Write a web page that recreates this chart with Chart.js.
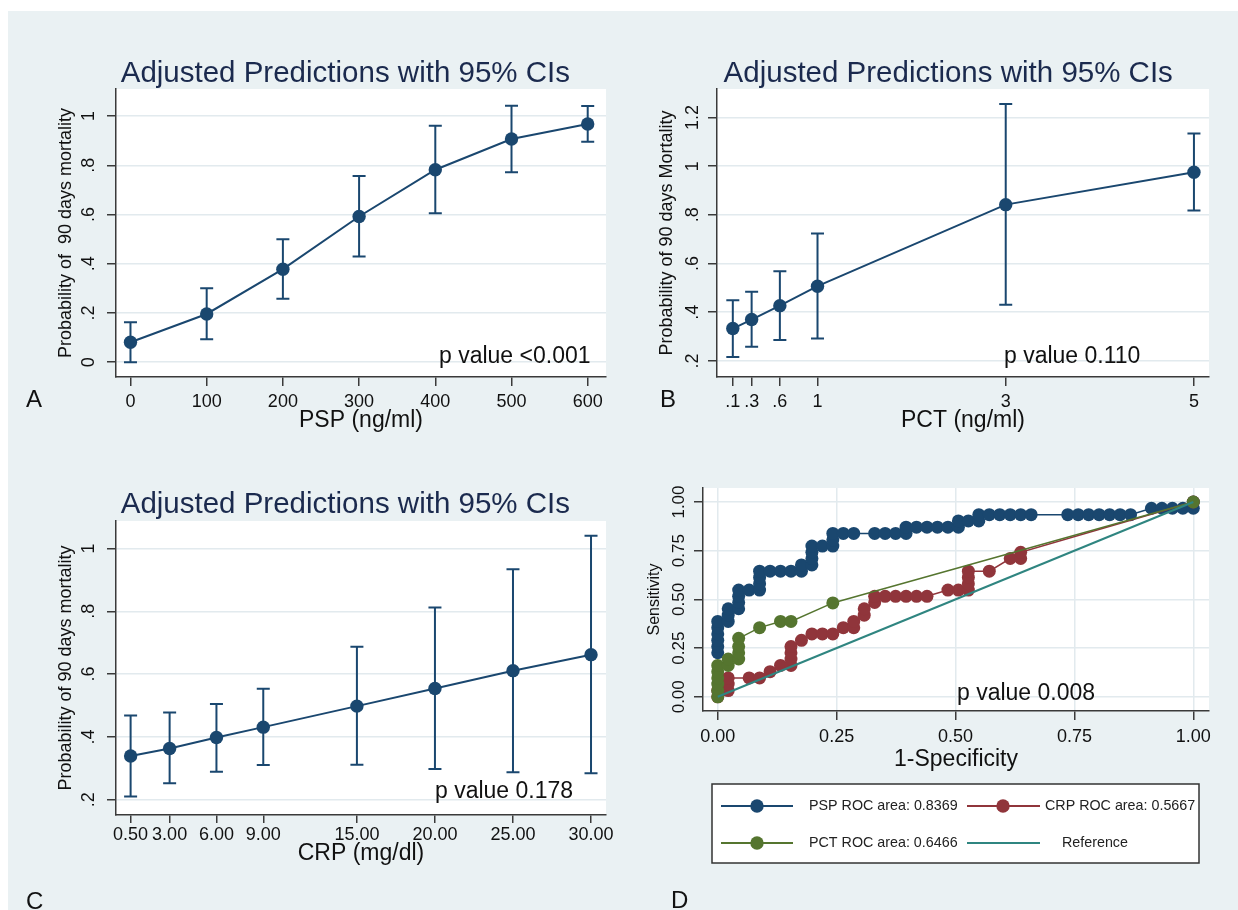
<!DOCTYPE html>
<html>
<head>
<meta charset="utf-8">
<script src="https://cdn.jsdelivr.net/npm/chart.js@4.4.1/dist/chart.umd.min.js"></script>
<style>
  body { margin: 0; width: 1238px; height: 910px; background: #fff; position: relative; overflow: hidden; }
  #bg { position: absolute; left: 8px; top: 11px; width: 1230px; height: 899px; background: #eaf1f3; }
  canvas { position: absolute; }
</style>
</head>
<body>
<div id="bg"></div>
<canvas id="chartA" width="610" height="430" style="left:8px;top:11px"></canvas>
<canvas id="chartB" width="620" height="430" style="left:618px;top:11px"></canvas>
<canvas id="chartC" width="610" height="460" style="left:8px;top:450px"></canvas>
<canvas id="chartD" width="620" height="460" style="left:618px;top:450px"></canvas>
<script>
/* ================= DATA ================= */
// A - PSP
const pspDose = [0, 100, 200, 300, 400, 500, 600];
const pspProb = [0.081, 0.196, 0.378, 0.592, 0.782, 0.907, 0.968];
const pspLow  = [0.0, 0.093, 0.258, 0.430, 0.605, 0.772, 0.896];
const pspHigh = [0.162, 0.301, 0.500, 0.757, 0.961, 1.042, 1.041];
const pspXLabels = ["0", "100", "200", "300", "400", "500", "600"];
const pspYTicks = [0, 0.2, 0.4, 0.6, 0.8, 1];
const pspYLabels = ["0", ".2", ".4", ".6", ".8", "1"];

// B - PCT
const pctDose = [0.1, 0.3, 0.6, 1, 3, 5];
const pctProb = [0.333, 0.370, 0.427, 0.507, 0.842, 0.975];
const pctLow  = [0.216, 0.258, 0.286, 0.292, 0.431, 0.818];
const pctHigh = [0.449, 0.484, 0.568, 0.723, 1.255, 1.134];
const pctXLabels = [".1", ".3", ".6", "1", "3", "5"];
const pctYTicks = [0.2, 0.4, 0.6, 0.8, 1, 1.2];
const pctYLabels = [".2", ".4", ".6", ".8", "1", "1.2"];

// C - CRP
const crpDose = [0.5, 3, 6, 9, 15, 20, 25, 30];
const crpProb = [0.339, 0.363, 0.398, 0.431, 0.498, 0.554, 0.611, 0.662];
const crpLow  = [0.210, 0.252, 0.289, 0.310, 0.311, 0.298, 0.287, 0.284];
const crpHigh = [0.468, 0.478, 0.505, 0.553, 0.687, 0.812, 0.934, 1.041];
const crpXLabels = ["0.50", "3.00", "6.00", "9.00", "15.00", "20.00", "25.00", "30.00"];
const crpYTicks = [0.2, 0.4, 0.6, 0.8, 1];
const crpYLabels = [".2", ".4", ".6", ".8", "1"];

// D - ROC curves (1-specificity, sensitivity)
const rocPspX = [0, 0, 0, 0, 0, 0, 0.022, 0.022, 0.022, 0.044, 0.044, 0.044, 0.044,
  0.066, 0.088, 0.088, 0.088, 0.088, 0.11, 0.132, 0.154, 0.176, 0.176,
  0.198, 0.198, 0.198, 0.198, 0.22, 0.242, 0.242, 0.242, 0.264, 0.286,
  0.33, 0.352, 0.374, 0.396, 0.396, 0.418, 0.44, 0.462, 0.484, 0.506, 0.506,
  0.527, 0.549, 0.549, 0.571, 0.593, 0.615, 0.637, 0.659,
  0.736, 0.758, 0.78, 0.802, 0.824, 0.846, 0.868,
  0.912, 0.934, 0.956, 0.978, 1, 1];
const rocPspY = [0.226, 0.258, 0.29, 0.323, 0.355, 0.387, 0.387, 0.419, 0.452, 0.452, 0.484, 0.516, 0.548,
  0.548, 0.548, 0.581, 0.613, 0.645, 0.645, 0.645, 0.645, 0.645, 0.677,
  0.677, 0.71, 0.742, 0.774, 0.774, 0.774, 0.806, 0.839, 0.839, 0.839,
  0.839, 0.839, 0.839, 0.839, 0.871, 0.871, 0.871, 0.871, 0.871, 0.871, 0.903,
  0.903, 0.903, 0.935, 0.935, 0.935, 0.935, 0.935, 0.935,
  0.935, 0.935, 0.935, 0.935, 0.935, 0.935, 0.935,
  0.968, 0.968, 0.968, 0.968, 0.968, 1];
const rocCrpX = [0, 0, 0.022, 0.022, 0.022, 0.066, 0.088, 0.11, 0.132, 0.154, 0.154, 0.154, 0.154,
  0.176, 0.198, 0.22, 0.242, 0.264, 0.286, 0.286, 0.308, 0.308, 0.33, 0.33,
  0.352, 0.374, 0.396, 0.418, 0.44, 0.484, 0.506, 0.527, 0.527, 0.527, 0.527,
  0.571, 0.615, 0.637, 0.637, 1];
const rocCrpY = [0, 0.032, 0.032, 0.065, 0.097, 0.097, 0.097, 0.129, 0.161, 0.161, 0.194, 0.226, 0.258,
  0.29, 0.323, 0.323, 0.323, 0.355, 0.355, 0.387, 0.419, 0.452, 0.484, 0.516,
  0.516, 0.516, 0.516, 0.516, 0.516, 0.548, 0.548, 0.548, 0.581, 0.613, 0.645,
  0.645, 0.71, 0.71, 0.742, 1];
const rocPctX = [0, 0, 0, 0, 0, 0, 0.022, 0.022, 0.044, 0.044, 0.044, 0.044, 0.088, 0.132, 0.154, 0.242, 1];
const rocPctY = [0, 0.032, 0.065, 0.097, 0.129, 0.161, 0.161, 0.194, 0.194, 0.226, 0.258, 0.3, 0.355, 0.387, 0.387, 0.482, 1];
const refX = [0, 1];
const refY = [0, 1];
const rocXTicks = [0, 0.25, 0.5, 0.75, 1];
const rocTickLabels = ["0.00", "0.25", "0.50", "0.75", "1.00"];
const rocLegend = ["PSP ROC area: 0.8369", "CRP ROC area: 0.5667", "PCT ROC area: 0.6466", "Reference"];

/* ================= STYLE ================= */
const FONT = "'Liberation Sans', Arial, sans-serif";
const NAVY = "#1a476f";
const MAROON = "#90353b";
const GREEN = "#55752f";
const TEAL = "#2f8580";
const INK = "#111111";
const AXIS = "#3a3a3a";
const GRID = "#e2eaee";
Chart.defaults.font.family = FONT;
Chart.defaults.color = INK;

const plotBg = {
    id: "plotBg",
    beforeDraw(chart) {
        const a = chart.chartArea;
        chart.ctx.save();
        chart.ctx.fillStyle = "#ffffff";
        chart.ctx.fillRect(a.left, a.top, a.right - a.left, a.bottom - a.top);
        chart.ctx.restore();
    }
};

function errorBars(xs, low, high) {
    return {
        id: "errorBars",
        beforeDatasetsDraw(chart) {
            const { ctx, scales: { x, y } } = chart;
            ctx.save();
            ctx.strokeStyle = NAVY;
            ctx.lineWidth = 2;
            xs.forEach((v, i) => {
                const px = x.getPixelForValue(v);
                const lo = y.getPixelForValue(low[i]);
                const hi = y.getPixelForValue(high[i]);
                ctx.beginPath();
                ctx.moveTo(px, lo); ctx.lineTo(px, hi);
                ctx.moveTo(px - 6.5, lo); ctx.lineTo(px + 6.5, lo);
                ctx.moveTo(px - 6.5, hi); ctx.lineTo(px + 6.5, hi);
                ctx.stroke();
            });
            ctx.restore();
        }
    };
}

// rotated y tick labels, title, p value and panel letter
function panelText(t) {
    return {
        id: "panelText",
        afterDraw(chart) {
            const ctx = chart.ctx;
            const y = chart.scales.y;
            ctx.save();
            ctx.fillStyle = INK;
            ctx.font = t.yFont + "px " + FONT;
            ctx.textAlign = "center";
            ctx.textBaseline = "middle";
            t.yTicks.forEach((v, i) => {
                ctx.save();
                ctx.translate(t.yLabelX, y.getPixelForValue(v));
                ctx.rotate(-Math.PI / 2);
                ctx.fillText(t.yLabels[i], 0, 0);
                ctx.restore();
            });
            ctx.textAlign = "left";
            ctx.textBaseline = "alphabetic";
            if (t.title) {
                ctx.fillStyle = "#1b2a4e";
                ctx.font = "29.5px " + FONT;
                ctx.fillText(t.title, t.titleX, t.titleY);
            }
            ctx.fillStyle = INK;
            ctx.font = "23px " + FONT;
            ctx.fillText(t.pText, t.pX, t.pY);
            ctx.font = "24px " + FONT;
            ctx.fillText(t.letter, t.letterX, t.letterY);
            ctx.restore();
        }
    };
}

function axisX(c) {
    return {
        type: "linear", min: c.min, max: c.max,
        afterBuildTicks: s => { s.ticks = c.ticks.map(v => ({ value: v })); },
        afterFit: s => { s.height = c.height; s.paddingLeft = 0; s.paddingRight = 0; },
        ticks: { autoSkip: false, maxRotation: 0, minRotation: 0, padding: c.pad,
            font: { size: 18, lineHeight: 1 }, color: INK, callback: (v, i) => c.labels[i] },
        grid: { drawOnChartArea: !!c.gridOn, color: GRID, lineWidth: 1.5, drawTicks: true,
            tickLength: c.tl, tickColor: AXIS, tickWidth: 1.5 },
        border: { color: AXIS, width: 1.5 },
        title: { display: true, text: c.title, font: { size: 23, lineHeight: 1 }, padding: 0, color: INK }
    };
}

function axisY(c) {
    return {
        type: "linear", min: c.min, max: c.max,
        afterBuildTicks: s => { s.ticks = c.ticks.map(v => ({ value: v })); },
        afterFit: s => { s.width = c.width; s.paddingTop = 0; s.paddingBottom = 0; },
        ticks: { display: false },
        grid: { color: GRID, lineWidth: 1.5, drawTicks: true, tickLength: 9, tickColor: AXIS, tickWidth: 1.5 },
        border: { color: AXIS, width: 1.5 },
        title: { display: true, text: c.title, font: { size: c.titleSize, lineHeight: 1 }, padding: 0, color: INK }
    };
}

/* ================= PREDICTION PANELS ================= */
function predictionChart(id, p) {
    return new Chart(document.getElementById(id), {
        type: "scatter",
        data: {
            datasets: [{
                data: p.xs.map((v, i) => ({ x: v, y: p.ys[i] })),
                showLine: true,
                borderColor: NAVY,
                borderWidth: 2,
                pointRadius: 6.7,
                pointBackgroundColor: NAVY,
                pointBorderWidth: 0
            }]
        },
        options: {
            responsive: false,
            animation: false,
            layout: { padding: p.padding },
            scales: { x: axisX(p.x), y: axisY(p.y) },
            plugins: { legend: { display: false }, tooltip: { enabled: false } }
        },
        plugins: [plotBg, errorBars(p.xs, p.low, p.high), panelText(p.text)]
    });
}

const TITLE = "Adjusted Predictions with 95% CIs";

predictionChart("chartA", {
    xs: pspDose, ys: pspProb, low: pspLow, high: pspHigh,
    padding: { left: 49, right: 12, top: 78, bottom: 8.5 },
    x: { min: -19, max: 624, ticks: pspDose, labels: pspXLabels, height: 55.5, tl: 9, pad: 7, title: "PSP (ng/ml)" },
    y: { min: -0.06, max: 1.11, ticks: pspYTicks, width: 59, title: "Probability of  90 days mortality", titleSize: 18 },
    text: { yTicks: pspYTicks, yLabels: pspYLabels, yFont: 18, yLabelX: 81, title: TITLE, titleX: 112.7, titleY: 71,
        pText: "p value <0.001", pX: 431, pY: 351.7, letter: "A", letterX: 18, letterY: 396 }
});

predictionChart("chartB", {
    xs: pctDose, ys: pctProb, low: pctLow, high: pctHigh,
    padding: { left: 40, right: 29, top: 78, bottom: 8.5 },
    x: { min: -0.068, max: 5.16, ticks: pctDose, labels: pctXLabels, height: 55.5, tl: 9, pad: 7, title: "PCT (ng/ml)" },
    y: { min: 0.134, max: 1.317, ticks: pctYTicks, width: 59, title: "Probability of 90 days Mortality", titleSize: 18 },
    text: { yTicks: pctYTicks, yLabels: pctYLabels, yFont: 18, yLabelX: 75, title: TITLE, titleX: 105.6, titleY: 71,
        pText: "p value 0.110", pX: 386, pY: 351.7, letter: "B", letterX: 42, letterY: 396 }
});

predictionChart("chartC", {
    xs: crpDose, ys: crpProb, low: crpLow, high: crpHigh,
    padding: { left: 49, right: 12, top: 71, bottom: 44.5 },
    x: { min: -0.436, max: 30.96, ticks: crpDose, labels: crpXLabels, height: 50.5, tl: 8, pad: 3.5, title: "CRP (mg/dl)" },
    y: { min: 0.151, max: 1.088, ticks: crpYTicks, width: 59, title: "Probability of 90 days mortality", titleSize: 18 },
    text: { yTicks: crpYTicks, yLabels: crpYLabels, yFont: 18, yLabelX: 81, title: TITLE, titleX: 112.7, titleY: 63.3,
        pText: "p value 0.178", pX: 427, pY: 348, letter: "C", letterX: 18, letterY: 459 }
});

/* ================= ROC PANEL ================= */
const toPoints = (xs, ys) => xs.map((v, i) => ({ x: v, y: ys[i] }));

const rocLegendBox = {
    id: "rocLegendBox",
    afterDraw(chart) {
        const ctx = chart.ctx;
        const colors = [NAVY, MAROON, GREEN, TEAL];
        const rows = [356, 356, 393, 393];
        const lineX = [[103, 175], [349, 422], [103, 175], [349, 422]];
        const markX = [139, 385, 139, null];
        const textX = [191, 427, 191, 444];
        ctx.save();
        ctx.fillStyle = "#ffffff";
        ctx.fillRect(94, 334, 487, 79);
        ctx.strokeStyle = "#333333";
        ctx.lineWidth = 1.5;
        ctx.strokeRect(94, 334, 487, 79);
        rocLegend.forEach((label, i) => {
            ctx.strokeStyle = colors[i];
            ctx.lineWidth = 2;
            ctx.beginPath();
            ctx.moveTo(lineX[i][0], rows[i]);
            ctx.lineTo(lineX[i][1], rows[i]);
            ctx.stroke();
            if (markX[i] !== null) {
                ctx.fillStyle = colors[i];
                ctx.beginPath();
                ctx.arc(markX[i], rows[i], 6.7, 0, Math.PI * 2);
                ctx.fill();
            }
            ctx.fillStyle = "#222222";
            ctx.font = "14.3px " + FONT;
            ctx.textBaseline = "middle";
            ctx.fillText(label, textX[i], rows[i]);
        });
        ctx.restore();
    }
};

new Chart(document.getElementById("chartD"), {
    type: "scatter",
    data: {
        datasets: [
            { data: toPoints(refX, refY), showLine: true, borderColor: TEAL, borderWidth: 2, pointRadius: 0, order: 0 },
            { data: toPoints(rocPctX, rocPctY), showLine: true, borderColor: GREEN, borderWidth: 1.5,
              pointRadius: 6.5, pointBackgroundColor: GREEN, pointBorderWidth: 0, order: 1 },
            { data: toPoints(rocCrpX, rocCrpY), showLine: true, borderColor: MAROON, borderWidth: 1.5,
              pointRadius: 6.5, pointBackgroundColor: MAROON, pointBorderWidth: 0, order: 2 },
            { data: toPoints(rocPspX, rocPspY), showLine: true, borderColor: NAVY, borderWidth: 1.5,
              pointRadius: 6.5, pointBackgroundColor: NAVY, pointBorderWidth: 0, order: 3 }
        ]
    },
    options: {
        responsive: false,
        animation: false,
        layout: { padding: { left: 29, right: 29, top: 38, bottom: 138.5 } },
        scales: {
            x: axisX({ min: -0.031, max: 1.033, ticks: rocXTicks, labels: rocTickLabels, height: 60.5, tl: 9, pad: 8,
                title: "1-Specificity", gridOn: true }),
            y: axisY({ min: -0.073, max: 1.072, ticks: rocXTicks, width: 56, title: "Sensitivity", titleSize: 16 })
        },
        plugins: { legend: { display: false }, tooltip: { enabled: false } }
    },
    plugins: [plotBg, panelText({ yTicks: rocXTicks, yLabels: rocTickLabels, yFont: 17, yLabelX: 61,
        pText: "p value 0.008", pX: 339, pY: 250, letter: "D", letterX: 53, letterY: 458 }), rocLegendBox]
});
</script>
</body>
</html>
